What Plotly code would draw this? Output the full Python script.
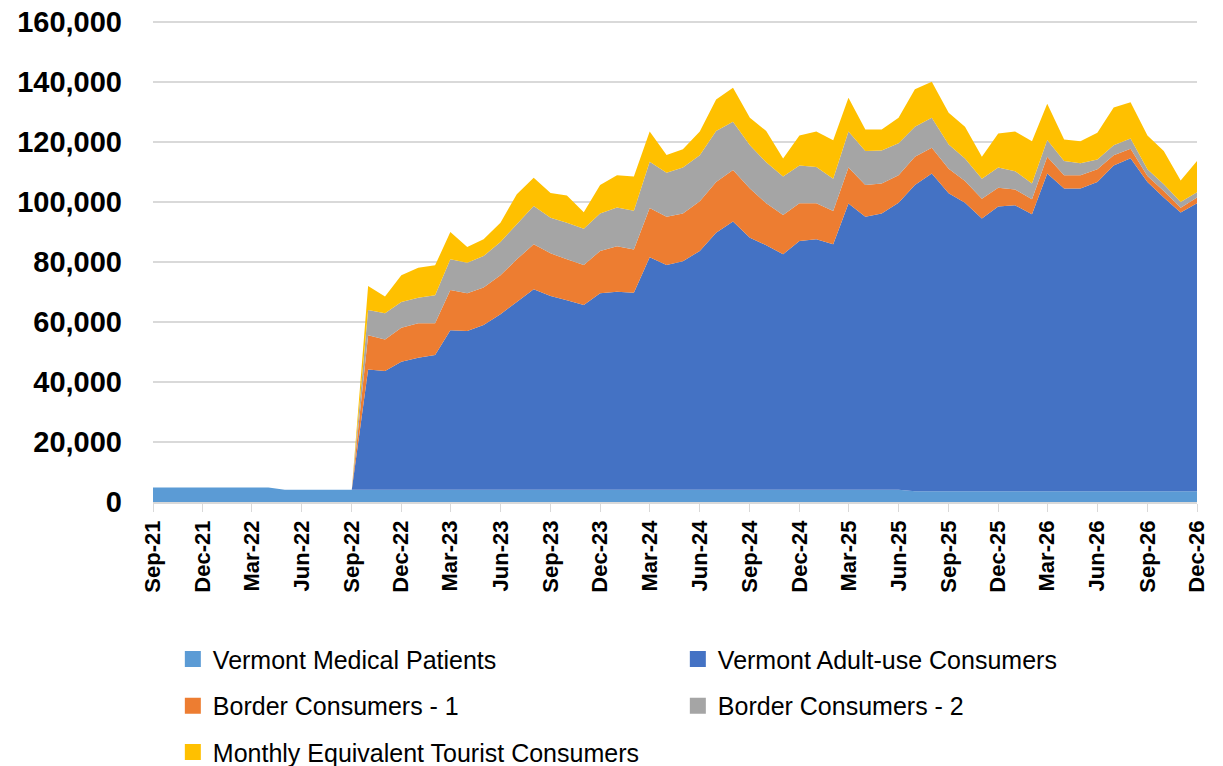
import pandas as pd
import plotly.graph_objects as go

# monthly categories, Sep-21 .. Dec-26
months = pd.date_range('2021-09-01', '2026-12-01', freq='MS')

medical = [4800, 4800, 4800, 4800, 4800, 4800, 4800, 4800,
           4100, 4100, 4100, 4100, 4100, 4100, 4100, 4100, 4100, 4100,
           4100, 4100, 4100, 4100, 4100, 4100, 4100, 4100, 4100, 4100,
           4100, 4100, 4100, 4100, 4100, 4100, 4100, 4100, 4100, 4100,
           4100, 4100, 4100, 4100, 4100, 4100, 4100, 4100,
           3600, 3600, 3600, 3600, 3600, 3600, 3600, 3600, 3600, 3600,
           3600, 3600, 3600, 3600, 3600, 3600, 3600, 3600]

adult_use = [0, 0, 0, 0, 0, 0, 0, 0, 0, 0, 0, 0, 0,
             40100, 39600, 42700, 44000, 44900, 53200, 52900, 54900, 58500, 62600,
             66800, 64600, 63200, 61600, 65500, 66000, 65700, 77500, 74900, 76200,
             79600, 85700, 89400, 84000, 81500, 78500, 82900, 83500, 81800, 95400,
             91000, 92100, 95700, 102100, 105900, 99300, 96200, 90900, 94900, 95300,
             92300, 105900, 100900, 100900, 103100, 108600, 111000, 103100, 97900, 92900,
             96000]

border_1 = [0, 0, 0, 0, 0, 0, 0, 0, 0, 0, 0, 0, 0,
            11400, 10500, 11300, 11500, 10600, 13400, 12600, 12500, 13000, 14200,
            15000, 14200, 13600, 13300, 14100, 15200, 14400, 16400, 16100, 15900,
            16600, 16900, 17200, 16400, 14000, 13100, 12600, 12000, 11100, 12000,
            10600, 10000, 9100, 9400, 8600, 8200, 7200, 6600, 6300, 5300,
            5000, 5600, 4400, 4400, 4200, 3400, 3200, 2000, 2200, 1600, 1900]

border_2 = [0, 0, 0, 0, 0, 0, 0, 0, 0, 0, 0, 0, 0,
            8400, 8700, 8600, 8500, 9300, 10200, 10200, 10500, 11100, 11700,
            12800, 11900, 12200, 12100, 12500, 12900, 12900, 15400, 14700, 15300,
            15300, 17000, 16100, 14400, 13700, 12800, 12600, 12100, 10800, 12000,
            11300, 11000, 10700, 10000, 10000, 8100, 7500, 6700, 6700, 6100,
            5300, 5600, 4800, 4000, 3300, 3300, 3400, 2200, 2200, 1900, 1800]

tourist = [0, 0, 0, 0, 0, 0, 0, 0, 0, 0, 0, 0, 0,
           8000, 5600, 8900, 10000, 10000, 9100, 5200, 5600, 6400, 10000,
           9400, 8200, 9100, 5500, 9500, 10700, 11400, 10100, 5900, 6100,
           7900, 10500, 11300, 9200, 10400, 6000, 10000, 11800, 12800, 11300,
           7200, 7000, 8500, 12500, 12000, 10600, 10600, 7300, 11400, 13200,
           14100, 12100, 7200, 7400, 8900, 12600, 12100, 11300, 11100, 7200, 10400]

series = [
    ('Vermont Medical Patients', medical, '#5B9BD5', 'legend'),
    ('Vermont Adult-use Consumers', adult_use, '#4472C4', 'legend'),
    ('Border Consumers - 1', border_1, '#ED7D31', 'legend2'),
    ('Border Consumers - 2', border_2, '#A5A5A5', 'legend2'),
    ('Monthly Equivalent Tourist Consumers', tourist, '#FFC000', 'legend3'),
]

fig = go.Figure()
for name, vals, color, leg in series:
    fig.add_trace(go.Scatter(x=months, y=vals, name=name, stackgroup='one',
                             mode='none', fillcolor=color, showlegend=False))
# square swatches for the legend
for name, vals, color, leg in series:
    fig.add_trace(go.Scatter(x=[None], y=[None], name=name, mode='markers',
                             marker=dict(symbol='square', size=16, color=color),
                             legend=leg))

FONT = 'Liberation Sans, Arial, sans-serif'
leg_style = dict(orientation='h', xanchor='left', yanchor='middle', x=0.019,
                 entrywidth=460, entrywidthmode='pixels', traceorder='normal',
                 bgcolor='rgba(0,0,0,0)', itemclick=False,
                 font=dict(family=FONT, size=25, color='#000000'))

fig.update_layout(
    width=1223, height=766,
    margin=dict(l=153, r=26, t=20, b=264, autoexpand=False),
    plot_bgcolor='white', paper_bgcolor='white',
    font=dict(family=FONT, color='#000000'),
    hovermode=False,
    legend=dict(leg_style, y=-0.326),
    legend2=dict(leg_style, y=-0.423),
    legend3=dict(leg_style, y=-0.519),
    xaxis=dict(type='date', range=['2021-09-01', '2026-12-01'],
               tickmode='linear', tick0='2021-09-01', dtick='M3',
               tickformat='%b-%y', tickangle=-90,
               tickfont=dict(family=FONT, size=22, weight='bold'),
               ticks='outside', ticklen=8, tickcolor='#D9D9D9',
               showline=True, linecolor='#D9D9D9', linewidth=1.5,
               showgrid=False, zeroline=False),
    yaxis=dict(range=[0, 160700], tickmode='linear', tick0=0, dtick=20000,
               tickformat=',', ticklabeloverflow='allow',
               tickfont=dict(family=FONT, size=29, weight='bold'),
               showgrid=True, gridcolor='#D9D9D9', gridwidth=1.5,
               ticklabelstandoff=30, zeroline=False, showline=False),
)

# drop the default 8px page margin so the figure sits at the window corner
fig.write_html('out.html', config={'displayModeBar': False},
               post_script="document.body.style.margin = '0';")
